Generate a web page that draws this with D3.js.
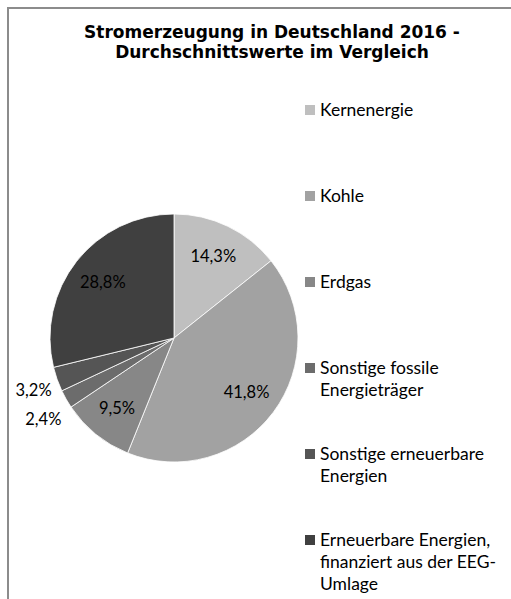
<!DOCTYPE html>
<html><head><meta charset="utf-8">
<script src="https://cdn.jsdelivr.net/npm/d3@7"></script>
<style>body{margin:0;background:#fff}svg{display:block}</style>
</head><body>
<script>
const categories = [
  ["Kernenergie"],
  ["Kohle"],
  ["Erdgas"],
  ["Sonstige fossile", "Energieträger"],
  ["Sonstige erneuerbare", "Energien"],
  ["Erneuerbare Energien,", "finanziert aus der EEG-", "Umlage"]
];
const values = [14.3, 41.8, 9.5, 2.4, 3.2, 28.8];
const valueLabels = ["14,3%", "41,8%", "9,5%", "2,4%", "3,2%", "28,8%"];
const colors = ["#bfbfbf", "#a2a2a2", "#878787", "#6c6c6c", "#555555", "#404040"];
const titleLines = ["Stromerzeugung in Deutschland 2016 -", "Durchschnittswerte im Vergleich"];

const W = 511, H = 599;
const svg = d3.select("body").append("svg").attr("width", W).attr("height", H);
svg.append("rect").attr("x", 8).attr("y", 8).attr("width", W + 20).attr("height", H + 20)
  .attr("fill", "#fff").attr("stroke", "#8c8c8c").attr("stroke-width", 2);

svg.append("text").attr("x", 272).attr("y", 38)
  .attr("text-anchor", "middle").attr("font-family", "DejaVu Sans").attr("font-weight", "bold")
  .attr("font-size", 17).attr("fill", "#000")
  .selectAll("tspan").data(titleLines).join("tspan")
  .attr("x", 272).attr("dy", (d, i) => i ? 20 : 0).text(d => d);

const cx = 174, cy = 338, r = 124;
const pie = d3.pie().sort(null).value(d => d)(values);
const arc = d3.arc().innerRadius(0).outerRadius(r);
const labelArc = d3.arc().innerRadius(r * 0.73).outerRadius(r * 0.73);
const g = svg.append("g").attr("transform", `translate(${cx},${cy})`);
g.selectAll("path").data(pie).join("path")
  .attr("d", arc).attr("fill", (d, i) => colors[i])
  .attr("stroke", "#fff").attr("stroke-width", 0.8);

const font = "Lato";
const fs = 16.5;
const outside = pie.map(d => (d.endAngle - d.startAngle) < 0.3);
const lbl = pie.map((d, i) => {
  if (!outside[i]) { const c = labelArc.centroid(d); return {x: c[0], y: c[1], anchor: "middle"}; }
  const a = (d.startAngle + d.endAngle) / 2;
  return {x: Math.sin(a) * (r + 10) + 4, y: -Math.cos(a) * (r + 10), anchor: "end"};
});
// resolve overlap of outside labels
const outIdx = lbl.map((d, i) => i).filter(i => outside[i]).sort((a, b) => lbl[a].y - lbl[b].y);
for (let k = 1; k < outIdx.length; k++) {
  const a = lbl[outIdx[k - 1]], b = lbl[outIdx[k]];
  if (b.y - a.y < 29) { const m = (a.y + b.y) / 2 + 11; a.y = m - 14.5; b.y = m + 14.5; }
}
g.selectAll("text.v").data(pie).join("text").attr("class", "v")
  .attr("x", (d, i) => lbl[i].x).attr("y", (d, i) => lbl[i].y).attr("dy", "0.35em")
  .attr("text-anchor", (d, i) => lbl[i].anchor)
  .attr("font-family", font).attr("font-size", fs).attr("fill", "#000")
  .text((d, i) => valueLabels[i]);

const legY = d3.scalePoint().domain(d3.range(categories.length)).range([110, 540]);
const leg = svg.append("g").selectAll("g").data(categories).join("g")
  .attr("transform", (d, i) => `translate(305,${legY(i)})`);
leg.append("rect").attr("x", 0).attr("y", -5).attr("width", 10).attr("height", 10)
  .attr("fill", (d, i) => colors[i]);
leg.append("text").attr("x", 15).attr("y", 0)
  .attr("font-family", font).attr("font-size", 17.5).attr("fill", "#000")
  .selectAll("tspan").data(d => d).join("tspan")
  .attr("x", 15).attr("dy", (d, i) => i ? 22 : "0.35em").text(d => d);
</script>
</body></html>
